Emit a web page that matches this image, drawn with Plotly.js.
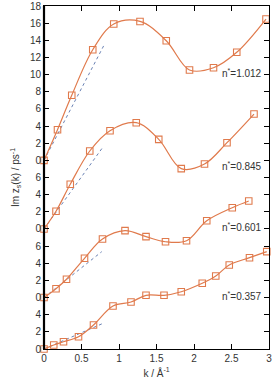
<!DOCTYPE html>
<html>
<head>
<meta charset="utf-8">
<script src="https://cdn.plot.ly/plotly-3.0.1.min.js"></script>
<style>html,body{margin:0;padding:0;background:#fff;}#chart{width:276px;height:382px;}</style>
</head>
<body>
<div id="chart"></div>
<script>
// Data (values in each series' own units, k in 1/Å)
const seriesNames = ["n*=0.357", "n*=0.601", "n*=0.845", "n*=1.012"];
const k357 = [0, 0.13, 0.26, 0.46, 0.66, 0.92, 1.16, 1.36, 1.60, 1.83, 2.11, 2.29, 2.47, 2.74, 2.97];
const v357 = [0, 0.47, 0.85, 1.43, 2.8, 5.01, 5.48, 6.26, 6.26, 6.68, 7.66, 8.51, 9.8, 10.65, 11.35];
const k601 = [0, 0.16, 0.30, 0.54, 0.78, 1.08, 1.36, 1.62, 1.90, 2.17, 2.51, 2.73];
const v601 = [0, 1.03, 2.13, 4.58, 6.83, 7.8, 7.1, 6.51, 6.63, 8.96, 10.48, 11.26];
const k845 = [0, 0.16, 0.35, 0.61, 0.88, 1.23, 1.53, 1.83, 2.14, 2.44, 2.80];
const v845 = [0, 2.06, 5.21, 9.09, 11.46, 12.39, 10.45, 7.03, 7.57, 10.06, 13.4];
const k1012 = [0, 0.18, 0.37, 0.65, 0.93, 1.28, 1.63, 1.94, 2.26, 2.57, 2.96];
const v1012 = [0, 3.57, 7.59, 12.9, 15.9, 16.2, 13.95, 10.54, 10.8, 12.6, 16.48];
// Linear (dotted) low-k lines: start and end points
const dotK = [[0, 0.79], [0, 0.77], [0, 0.79], [0, 0.81]];
const dotV = [[0, 3.0], [0, 5.35], [0, 9.6], [0, 13.6]];
// Vertical offsets of the stacked curves
const offsets = [0, 6, 14, 22];
// Tick labels along the stacked y axis
const tickTexts = ["0","2","4", "0","2","4","6", "0","2","4","6", "0","2","4","6","8","10","12","14","16","18"];
const tickVals = [0,2,4, 6,8,10,12, 14,16,18,20, 22,24,26,28,30,32,34,36,38,40];

const ks = [k357, k601, k845, k1012];
const vs = [v357, v601, v845, v1012];
const orange = "#e07a4c";
const blue = "#6a82b4";

const traces = [];
for (let i = 0; i < 4; i++) {
  traces.push({
    x: dotK[i], y: dotV[i].map(v => v + offsets[i]),
    mode: "lines", line: {color: blue, dash: "dot", width: 1},
    hoverinfo: "skip", showlegend: false
  });
  traces.push({
    x: ks[i], y: vs[i].map(v => v + offsets[i]),
    mode: "lines+markers", name: seriesNames[i],
    line: {color: orange, width: 1.2, shape: "spline", smoothing: 1},
    marker: {symbol: "square-open", size: 6.5, color: orange, line: {width: 1.1, color: orange}},
    showlegend: false, cliponaxis: false
  });
}

const labelY = [6.2, 14.2, 21.3, 32.2];
const annotations = labelY.map((y, i) => ({
  x: 2.93, y: y, xref: "x", yref: "y", xanchor: "right", yanchor: "middle",
  text: "n<sup>*</sup>" + seriesNames[i].slice(2), showarrow: false,
  font: {family: "Liberation Sans, Arial, sans-serif", size: 10, color: "#333"}
}));

const layout = {
  width: 276, height: 382,
  margin: {l: 44, r: 7, t: 6, b: 33},
  paper_bgcolor: "#fff", plot_bgcolor: "#fff",
  font: {family: "Liberation Sans, Arial, sans-serif", size: 10, color: "#333"},
  xaxis: {
    range: [0, 3], tickvals: [0, 0.5, 1, 1.5, 2, 2.5, 3],
    ticktext: ["0", "0.5", "1", "1.5", "2", "2.5", "3"],
    ticks: "inside", ticklen: 5, tickcolor: "#000", showgrid: false, zeroline: false,
    showline: true, linecolor: "#000", linewidth: 1, mirror: "ticks",
    title: {text: "k / Å<sup>-1</sup>", standoff: 6, font: {size: 10, color: "#333"}},
    tickfont: {size: 10, color: "#333"}
  },
  yaxis: {
    range: [0, 40], tickvals: tickVals, ticktext: tickTexts,
    ticks: "inside", ticklen: 5, tickcolor: "#000", showgrid: false, zeroline: false,
    showline: true, linecolor: "#000", linewidth: 1, mirror: "ticks",
    title: {text: "Im z<sub>s</sub>(k) / ps<sup>-1</sup>", standoff: 8, font: {size: 10, color: "#333"}},
    tickfont: {size: 10, color: "#333"}
  },
  shapes: [{
    type: "line", xref: "paper", yref: "paper", x0: 0, x1: 0, y0: 0, y1: 1,
    line: {color: "#000", width: 2.2}
  }],
  annotations: annotations
};

Plotly.newPlot("chart", traces, layout, {staticPlot: true, displayModeBar: false});
</script>
</body>
</html>
